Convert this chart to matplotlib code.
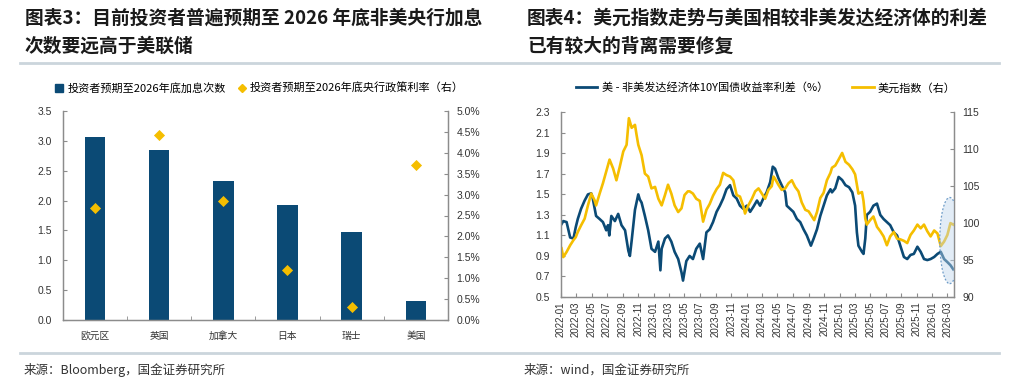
import matplotlib
matplotlib.use("Agg")
import matplotlib.pyplot as plt
import matplotlib.dates as mdates
from matplotlib.patches import Ellipse
from matplotlib.lines import Line2D
import numpy as np
import pandas as pd

plt.rcParams['font.family'] = ['Liberation Sans', 'Noto Sans CJK SC', 'DejaVu Sans']
CJK = ['Noto Sans CJK SC', 'DejaVu Sans']

# ---------------- Left chart data ----------------
countries = ['欧元区', '英国', '加拿大', '日本', '瑞士', '美国']
hikes = [3.07, 2.85, 2.32, 1.92, 1.47, 0.32]
policy_rate = [2.69, 4.43, 2.85, 1.20, 0.31, 3.72]  # %
left_yticks = [0.0, 0.5, 1.0, 1.5, 2.0, 2.5, 3.0, 3.5]
right_yticks = [0.0, 0.5, 1.0, 1.5, 2.0, 2.5, 3.0, 3.5, 4.0, 4.5, 5.0]

# ---------------- Right chart data ----------------
dxy_dates = [
    '2022-01-03', '2022-01-10', '2022-01-23', '2022-02-06', '2022-02-19', '2022-02-28',
    '2022-03-08', '2022-03-21', '2022-04-04', '2022-04-17', '2022-04-30', '2022-05-13',
    '2022-05-19', '2022-06-02', '2022-06-15', '2022-06-28', '2022-07-11', '2022-07-25',
    '2022-08-07', '2022-08-20', '2022-09-03', '2022-09-16', '2022-09-25', '2022-10-06',
    '2022-10-19', '2022-10-25', '2022-11-01', '2022-11-14', '2022-11-27', '2022-12-10',
    '2022-12-23', '2023-01-06', '2023-01-19', '2023-02-01', '2023-02-14', '2023-02-26',
    '2023-03-11', '2023-03-24', '2023-04-07', '2023-04-20', '2023-05-02', '2023-05-15',
    '2023-05-22', '2023-06-04', '2023-06-17', '2023-07-01', '2023-07-14', '2023-07-27',
    '2023-08-09', '2023-08-22', '2023-09-05', '2023-09-18', '2023-10-01', '2023-10-14',
    '2023-10-28', '2023-11-10', '2023-11-23', '2023-12-06', '2023-12-19', '2023-12-26',
    '2024-01-08', '2024-01-22', '2024-02-04', '2024-02-17', '2024-03-01', '2024-03-14',
    '2024-03-27', '2024-04-09', '2024-04-16', '2024-04-22', '2024-05-05', '2024-05-18',
    '2024-06-01', '2024-06-14', '2024-06-27', '2024-07-10', '2024-07-23', '2024-08-05',
    '2024-08-19', '2024-09-01', '2024-09-14', '2024-09-23', '2024-10-04', '2024-10-17',
    '2024-10-30', '2024-11-12', '2024-11-26', '2024-12-02', '2024-12-15', '2024-12-28',
    '2025-01-11', '2025-01-24', '2025-02-07', '2025-02-20', '2025-03-03', '2025-03-16',
    '2025-03-30', '2025-04-05', '2025-04-12', '2025-04-18', '2025-05-01', '2025-05-14',
    '2025-05-28', '2025-06-10', '2025-06-23', '2025-07-06', '2025-07-19', '2025-08-02',
    '2025-08-15', '2025-08-28', '2025-09-11', '2025-09-24', '2025-10-07', '2025-10-20',
    '2025-11-03', '2025-11-16', '2025-11-29', '2025-12-12', '2025-12-25', '2026-01-08',
    '2026-01-21', '2026-02-03', '2026-02-16', '2026-03-01', '2026-03-13', '2026-03-24']
dxy_values = [
    96.6, 95.4, 96.1, 97.0, 97.7, 98.1,
    98.8, 99.7, 100.6, 102.4, 104.0, 103.1,
    102.4, 104.0, 105.4, 107.0, 108.6, 107.4,
    105.8, 107.6, 109.7, 110.6, 114.2, 112.9,
    113.3, 112.0, 110.6, 109.2, 106.7, 106.3,
    104.7, 104.9, 103.3, 102.4, 103.8, 105.2,
    104.0, 102.4, 101.5, 102.0, 103.8, 104.3,
    104.3, 104.0, 103.3, 103.0, 100.2, 101.8,
    102.6, 103.7, 104.6, 105.2, 106.8, 106.5,
    106.3, 105.8, 103.8, 103.6, 102.3, 101.3,
    102.4, 103.3, 104.3, 104.7, 104.0, 103.3,
    104.5, 105.0, 106.3, 106.0, 105.2, 104.5,
    104.7, 105.4, 105.8, 104.9, 104.3, 102.8,
    101.8, 101.6, 100.9, 100.4, 101.5, 103.4,
    104.1, 105.8, 106.8, 107.5, 107.8, 108.6,
    109.5, 108.3, 107.9, 107.3, 106.6, 104.0,
    104.2, 103.0, 100.6, 99.8, 100.4, 100.9,
    99.5, 98.9, 98.2, 97.0, 98.2, 98.8,
    97.9, 97.8, 97.6, 97.3, 98.4, 99.0,
    99.8, 99.3, 99.8, 98.9, 98.2, 99.0,
    98.6, 96.9, 97.5, 98.4, 100.0, 99.8]

spread_dates = [
    '2022-01-03', '2022-01-10', '2022-01-23', '2022-02-06', '2022-02-19', '2022-02-28',
    '2022-03-08', '2022-03-21', '2022-04-04', '2022-04-17', '2022-04-30', '2022-05-06',
    '2022-05-19', '2022-06-02', '2022-06-15', '2022-06-28', '2022-07-05', '2022-07-10',
    '2022-07-18', '2022-08-01', '2022-08-14', '2022-08-27', '2022-09-10', '2022-09-23',
    '2022-09-29', '2022-10-06', '2022-10-19', '2022-11-01', '2022-11-07', '2022-11-14',
    '2022-11-27', '2022-12-10', '2022-12-23', '2023-01-06', '2023-01-19', '2023-01-27',
    '2023-02-01', '2023-02-14', '2023-02-26', '2023-03-11', '2023-03-24', '2023-04-07',
    '2023-04-20', '2023-04-26', '2023-05-09', '2023-05-22', '2023-06-04', '2023-06-17',
    '2023-07-01', '2023-07-14', '2023-07-27', '2023-08-09', '2023-08-22', '2023-09-05',
    '2023-09-18', '2023-10-01', '2023-10-14', '2023-10-28', '2023-11-10', '2023-11-23',
    '2023-12-06', '2023-12-19', '2024-01-02', '2024-01-15', '2024-01-28', '2024-02-11',
    '2024-02-23', '2024-03-07', '2024-03-20', '2024-04-03', '2024-04-13', '2024-04-22',
    '2024-05-05', '2024-05-18', '2024-06-01', '2024-06-07', '2024-06-20', '2024-07-03',
    '2024-07-17', '2024-07-30', '2024-08-12', '2024-08-25', '2024-09-10', '2024-09-21',
    '2024-10-04', '2024-10-17', '2024-10-30', '2024-11-12', '2024-11-26', '2024-12-02',
    '2024-12-15', '2024-12-28', '2025-01-11', '2025-01-24', '2025-02-07', '2025-02-20',
    '2025-03-03', '2025-03-10', '2025-03-16', '2025-03-30', '2025-04-05', '2025-04-12',
    '2025-04-18', '2025-05-01', '2025-05-14', '2025-05-28', '2025-06-10', '2025-06-23',
    '2025-07-06', '2025-07-19', '2025-08-02', '2025-08-15', '2025-08-28', '2025-09-11',
    '2025-09-24', '2025-10-07', '2025-10-20', '2025-11-03', '2025-11-16', '2025-11-29',
    '2025-12-12', '2025-12-25', '2026-01-08', '2026-01-21', '2026-02-03', '2026-02-16',
    '2026-03-01', '2026-03-13', '2026-03-24']
spread_values = [
    1.21, 1.24, 1.23, 1.08, 1.07, 1.18,
    1.26, 1.36, 1.44, 1.50, 1.51, 1.46,
    1.29, 1.26, 1.23, 1.15, 1.20, 1.10,
    1.29, 1.24, 1.31, 1.20, 1.15, 0.95,
    0.90, 1.05, 1.35, 1.50, 1.45, 1.42,
    1.29, 1.15, 0.97, 0.94, 1.04, 0.76,
    0.97, 1.07, 1.10, 1.04, 0.94, 0.87,
    0.74, 0.66, 0.85, 0.90, 0.87, 0.97,
    1.02, 0.87, 1.13, 1.16, 1.23, 1.33,
    1.39, 1.46, 1.55, 1.59, 1.49, 1.46,
    1.39, 1.36, 1.39, 1.33, 1.38, 1.44,
    1.39, 1.46, 1.52, 1.62, 1.77, 1.75,
    1.66, 1.59, 1.52, 1.39, 1.36, 1.33,
    1.26, 1.23, 1.16, 1.10, 1.00, 1.07,
    1.16, 1.29, 1.39, 1.49, 1.55, 1.52,
    1.56, 1.67, 1.64, 1.59, 1.57, 1.52,
    1.39, 1.13, 1.00, 0.94, 0.92, 1.07,
    1.30, 1.33, 1.39, 1.41, 1.30, 1.26,
    1.23, 1.20, 1.13, 1.10, 1.00, 0.89,
    0.87, 0.91, 0.92, 0.99, 0.94, 0.87,
    0.86, 0.87, 0.89, 0.92, 0.94, 0.87,
    0.84, 0.81, 0.77]

# ---------------- Styles ----------------
NAVY = '#0B4A75'
GOLD = '#F5BE00'
GRID_GREY = '#8C8C8C'
SEP = '#CBD5DC'

fig = plt.figure(figsize=(10.24, 3.90), dpi=100)
W, H = 1024, 390

def fx(px):
    return px / W

def fy(py):
    return 1 - py / H

# Titles
title_kw = dict(family=CJK, fontsize=13.5, fontweight='bold', fontstyle='italic',
                va='center', ha='left', color='#1a1a1a')
fig.text(fx(25), fy(18), '图表3：目前投资者普遍预期至 2026 年底非美央行加息', **title_kw)
fig.text(fx(25), fy(46), '次数要远高于美联储', **title_kw)
fig.text(fx(527), fy(18), '图表4：美元指数走势与美国相较非美发达经济体的利差', **title_kw)
fig.text(fx(527), fy(46), '已有较大的背离需要修复', **title_kw)

# separator lines
for yy in (63, 353):
    fig.add_artist(Line2D([fx(20), fx(999)], [fy(yy), fy(yy)], color=SEP, lw=2.0))

# Sources
fig.text(fx(24), fy(370), '来源：Bloomberg，国金证券研究所', family=CJK, fontsize=9,
         va='center', ha='left', color='#333333')
fig.text(fx(524), fy(370), '来源：wind，国金证券研究所', family=CJK, fontsize=9,
         va='center', ha='left', color='#333333')

# ---------------- Left chart ----------------
axL = fig.add_axes([fx(62.7), fy(320), fx(448) - fx(62.7), fy(111) - fy(320)])
x = np.arange(len(countries))
axL.bar(x, hikes, width=0.32, color=NAVY, zorder=2)
axL.set_xlim(-0.5, len(countries) - 0.5)
axL.set_ylim(0, 3.5)
axL.set_yticks(left_yticks)
axL.set_yticklabels([f'{v:.1f}' for v in left_yticks], fontsize=7.5, color='#333333')
axL.set_xticks(x)
axL.set_xticklabels(countries, family=CJK, fontsize=7, color='#333333')
axL.set_xticks(np.arange(len(countries) - 1) + 0.5, minor=True)
axL.tick_params(axis='x', which='major', length=0, pad=8)
axL.tick_params(axis='x', which='minor', length=3, direction='in', color=GRID_GREY)
axL.tick_params(axis='y', length=3, direction='in', color=GRID_GREY, pad=8)
axL.spines['top'].set_visible(False)
for s in ('left', 'bottom', 'right'):
    axL.spines[s].set_color(GRID_GREY)
    axL.spines[s].set_linewidth(0.9)

axL2 = axL.twinx()
axL2.scatter(x, policy_rate, marker='D', s=32, color=GOLD, zorder=3, linewidths=0)
axL2.set_ylim(0, 5.0)
axL2.set_yticks(right_yticks)
axL2.set_yticklabels([f'{v:.1f}%' for v in right_yticks], fontsize=7.5, color='#333333')
axL2.tick_params(axis='y', length=3, direction='in', color=GRID_GREY, pad=6)
axL2.spines['top'].set_visible(False)
for s in ('left', 'bottom', 'right'):
    axL2.spines[s].set_color(GRID_GREY)
    axL2.spines[s].set_linewidth(0.9)

hL = [Line2D([], [], marker='s', color=NAVY, linestyle='none', markersize=6),
      Line2D([], [], marker='D', color=GOLD, linestyle='none', markersize=4)]
fig.legend(hL, ['投资者预期至2026年底加息次数', '投资者预期至2026年底央行政策利率（右）'],
           loc='center', bbox_to_anchor=(fx(259), fy(88)), ncol=2, frameon=False,
           prop={'family': CJK, 'size': 8}, handletextpad=0.2, columnspacing=1.0,
           handlelength=1.0)

# ---------------- Right chart ----------------
d_dxy = pd.to_datetime(dxy_dates)
d_spr = pd.to_datetime(spread_dates)

axR = fig.add_axes([fx(561), fy(297), fx(954) - fx(561), fy(112.3) - fy(297)])
axR.plot(d_spr, spread_values, color=NAVY, lw=1.9, zorder=2)
axR.set_ylim(0.5, 2.3)
r_left_ticks = [0.5, 0.7, 0.9, 1.1, 1.3, 1.5, 1.7, 1.9, 2.1, 2.3]
axR.set_yticks(r_left_ticks)
axR.set_yticklabels([f'{v:.1f}' for v in r_left_ticks], fontsize=7.5, color='#333333')
axR.set_xlim(pd.Timestamp('2022-01-01'), pd.Timestamp('2026-03-27'))
axR.xaxis.set_major_locator(mdates.MonthLocator(bymonth=[1, 3, 5, 7, 9, 11]))
axR.xaxis.set_major_formatter(mdates.DateFormatter('%Y-%m'))
plt.setp(axR.get_xticklabels(), rotation=90, fontsize=7, color='#333333')
axR.tick_params(axis='x', length=3, direction='in', color=GRID_GREY, pad=3)
axR.tick_params(axis='y', length=3, direction='in', color=GRID_GREY, pad=8)
axR.spines['top'].set_visible(False)
for s in ('left', 'bottom', 'right'):
    axR.spines[s].set_color(GRID_GREY)
    axR.spines[s].set_linewidth(0.9)

axR2 = axR.twinx()
axR2.plot(d_dxy, dxy_values, color=GOLD, lw=1.9, zorder=2)
axR2.set_ylim(90, 115)
r_right_ticks = [90, 95, 100, 105, 110, 115]
axR2.set_yticks(r_right_ticks)
axR2.set_yticklabels([str(v) for v in r_right_ticks], fontsize=7.5, color='#333333')
axR2.tick_params(axis='y', length=3, direction='in', color=GRID_GREY, pad=6)
axR2.spines['top'].set_visible(False)
for s in ('left', 'bottom', 'right'):
    axR2.spines[s].set_color(GRID_GREY)
    axR2.spines[s].set_linewidth(0.9)

# highlight ellipse (drawn on the secondary axes, in primary-axis data coordinates)
ell_center = (mdates.date2num(pd.Timestamp('2026-03-10')), 1.05)
ell = Ellipse(ell_center, width=78, height=0.84, facecolor='#BFD6EC', alpha=0.45,
              edgecolor='none', zorder=5)
axR2.add_patch(ell)
ell.set_transform(axR.transData)
ell2 = Ellipse(ell_center, width=78, height=0.84, facecolor='none', edgecolor='#6E9CC8',
               linestyle=(0, (1.5, 1.5)), lw=0.9, zorder=6)
axR2.add_patch(ell2)
ell2.set_transform(axR.transData)

hR = [Line2D([], [], color=NAVY, lw=2), Line2D([], [], color=GOLD, lw=2)]
fig.legend(hR, ['美 - 非美发达经济体10Y国债收益率利差（%）', '美元指数（右）'],
           loc='center', bbox_to_anchor=(fx(766), fy(88)), ncol=2, frameon=False,
           prop={'family': CJK, 'size': 8}, handletextpad=0.4, columnspacing=2.2,
           handlelength=1.9)

fig.savefig('out.png', dpi=100)
